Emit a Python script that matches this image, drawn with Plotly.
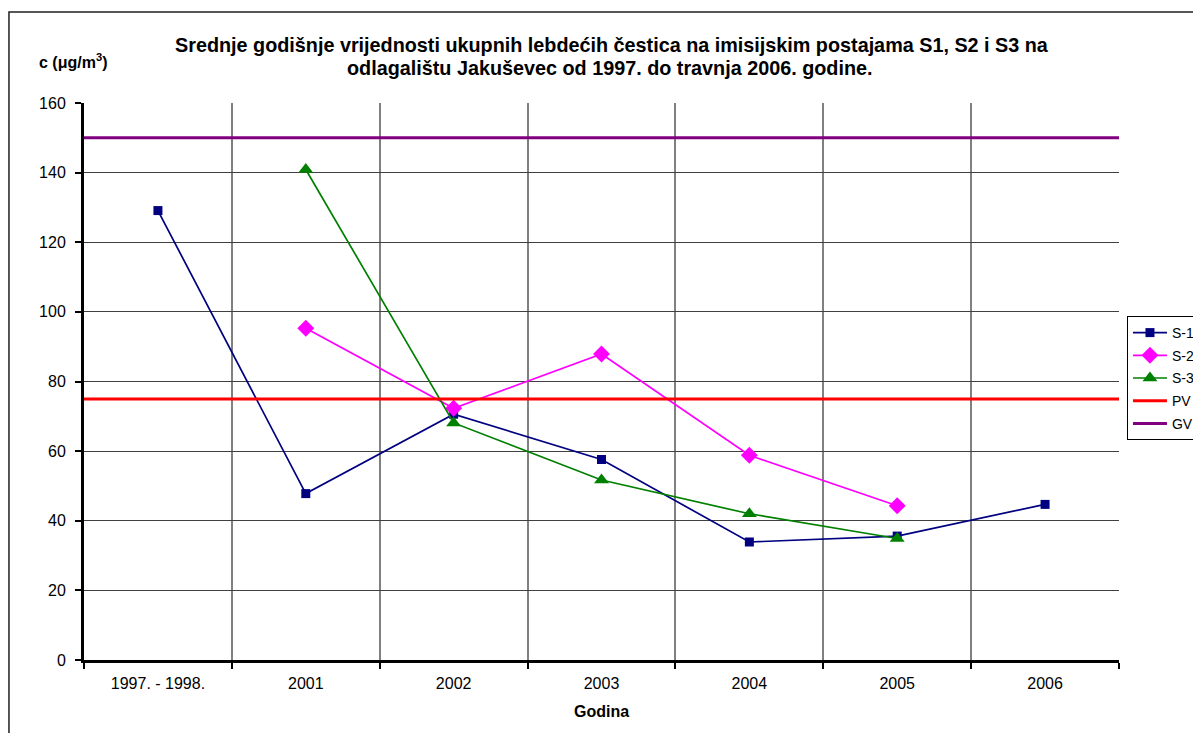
import plotly.graph_objects as go

categories = ["1997. - 1998.", "2001", "2002", "2003", "2004", "2005", "2006"]
s1_values = [129.1, 47.8, 70.6, 57.6, 33.9, 35.6, 44.7]
s2_values = [None, 95.3, 72.3, 87.9, 58.8, 44.3, None]
s3_values = [None, 140.9, 68.1, 51.7, 42.0, 34.9, None]
pv_value = 75
gv_value = 150
y_ticks = [0, 20, 40, 60, 80, 100, 120, 140, 160]
title_line1 = "Srednje godišnje vrijednosti ukupnih lebdećih čestica na imisijskim postajama S1, S2 i S3 na"
title_line2 = "odlagalištu Jakuševec od 1997. do travnja 2006. godine."

FONT = "Arial, Liberation Sans, sans-serif"
W, H = 1193, 733

fig = go.Figure()
fig.add_trace(go.Scatter(x=categories, y=s1_values, name="S-1", mode="lines+markers",
                         legendgroup="a",
                         line=dict(color="#000080", width=1.7),
                         marker=dict(symbol="square", size=9, color="#000080")))
fig.add_trace(go.Scatter(x=categories, y=s2_values, name="S-2", mode="lines+markers",
                         legendgroup="b",
                         line=dict(color="#FF00FF", width=1.7),
                         marker=dict(symbol="diamond", size=13, color="#FF00FF")))
fig.add_trace(go.Scatter(x=categories, y=s3_values, name="S-3", mode="lines+markers",
                         legendgroup="c",
                         line=dict(color="#008000", width=1.7),
                         marker=dict(symbol="triangle-up", size=13, color="#008000")))
fig.add_trace(go.Scatter(x=[0, 1], y=[pv_value, pv_value], name="PV", mode="lines",
                         legendgroup="d",
                         xaxis="x2", line=dict(color="#FF0000", width=3)))
fig.add_trace(go.Scatter(x=[0, 1], y=[gv_value, gv_value], name="GV", mode="lines",
                         legendgroup="e",
                         xaxis="x2", line=dict(color="#800080", width=3)))

fig.update_layout(
    width=W, height=H, autosize=False,
    margin=dict(l=84, r=74, t=103, b=73, autoexpand=False),
    paper_bgcolor="white", plot_bgcolor="white",
    font=dict(family=FONT, size=16, color="black"),
    showlegend=True,
    legend=dict(x=1.0077, xanchor="left", y=0.6176, yanchor="top",
                bordercolor="black", borderwidth=1, bgcolor="white",
                font=dict(size=14), tracegroupgap=1.5, itemwidth=34),
    xaxis=dict(type="category", range=[-0.5, 6.5], tickson="boundaries",
               showgrid=True, gridcolor="#808080", gridwidth=1.5,
               showline=True, linecolor="black", linewidth=3,
               ticks="outside", ticklen=6, tickwidth=2, tickcolor="black",
               tickfont=dict(size=16), zeroline=False, ticklabelstandoff=7,
               title=dict(text="<b>Godina</b>", font=dict(size=16), standoff=15)),
    xaxis2=dict(overlaying="x", range=[0, 1], visible=False, showgrid=False),
    yaxis=dict(range=[0, 160], tickvals=y_ticks, showgrid=True,
               gridcolor="#404040", gridwidth=1,
               showline=True, linecolor="black", linewidth=3,
               ticks="outside", ticklen=6, tickwidth=2, tickcolor="black",
               tickfont=dict(size=16), zeroline=False, ticklabelstandoff=6),
    annotations=[
        dict(text="<b>" + title_line1 + "</b>",
             xref="paper", yref="paper", x=0.510, y=1.1040, xanchor="center", yanchor="middle",
             showarrow=False, font=dict(size=19.8, family=FONT)),
        dict(text="<b>" + title_line2 + "</b>",
             xref="paper", yref="paper", x=0.508, y=1.0620, xanchor="center", yanchor="middle",
             showarrow=False, font=dict(size=19.8, family=FONT)),
        dict(text="<b>c (μg/m<sup>3</sup>)</b>", xref="paper", yref="paper",
             x=-0.0454, y=1.075, xanchor="left", yanchor="middle", showarrow=False,
             font=dict(size=16, family=FONT)),
    ],
    shapes=[
        dict(type="rect", xref="paper", yref="paper", x0=-0.0725, x1=1.3, y0=-0.3, y1=1.1634,
             line=dict(color="#202020", width=1.5), fillcolor="rgba(0,0,0,0)", layer="below"),
    ],
)

post = ("document.documentElement.style.overflow='hidden';"
        "document.body.style.margin='0';document.body.style.overflow='hidden';")

fig.write_html("out.html", config={"displayModeBar": False, "responsive": False},
               post_script=post)
